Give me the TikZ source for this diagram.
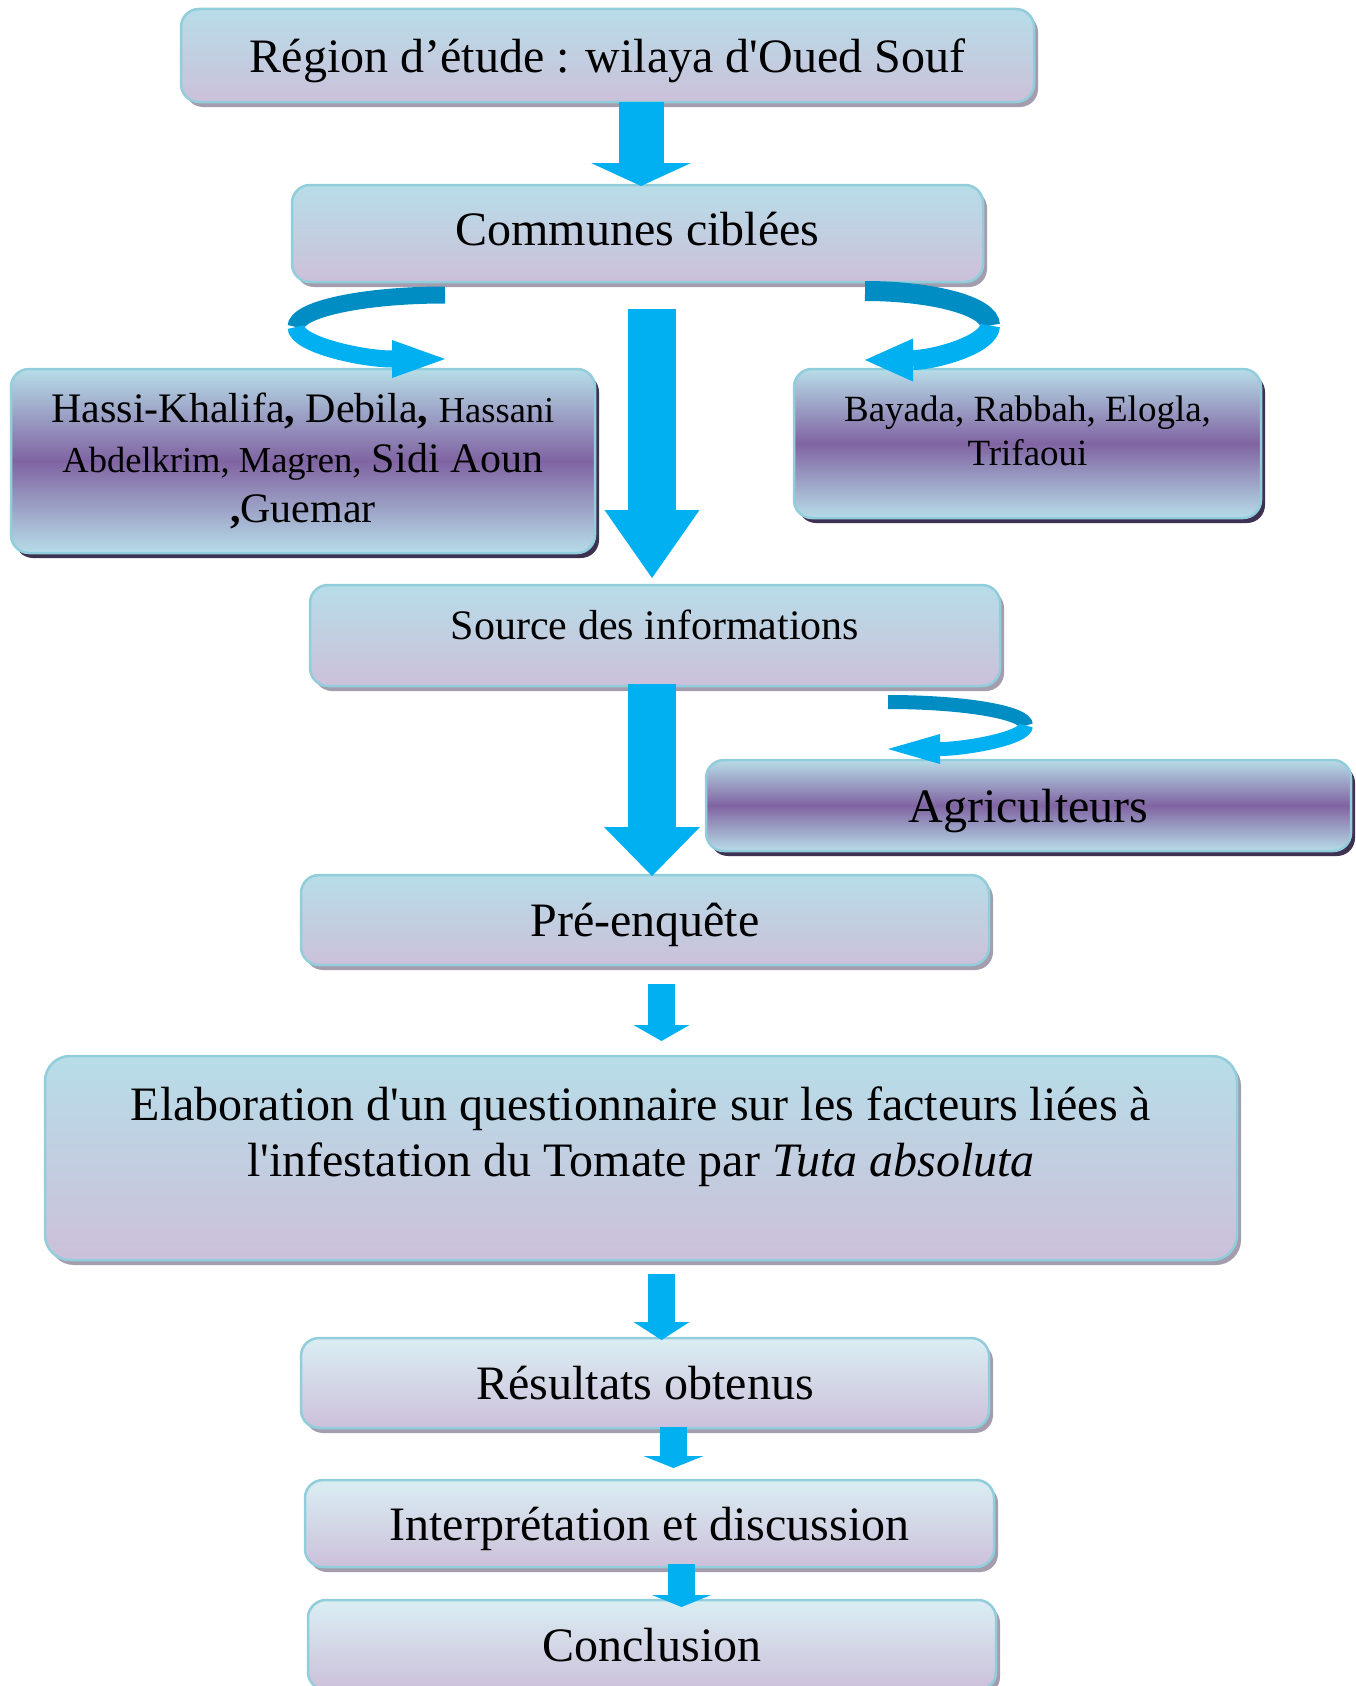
\documentclass[tikz,border=0pt]{standalone}
\usepackage{fontspec}
\setmainfont{Liberation Serif}[Ligatures=TeXOff]
\usepackage{tikz}
\usetikzlibrary{positioning,shapes,arrows.meta,shadows,calc}

\definecolor{aquatop}{HTML}{B7DDE8}
\definecolor{aquapale}{HTML}{DAEEF3}
\definecolor{lilac}{HTML}{CCC0DA}
\definecolor{plum}{HTML}{8064A2}
\definecolor{rimblue}{HTML}{92CDDC}
\definecolor{shadegray}{HTML}{A39DAE}
\definecolor{shadeplum}{HTML}{3F3151}
\definecolor{flowblue}{HTML}{00B0F0}
\definecolor{flowdark}{HTML}{008DC4}

\newcommand{\bigtxt}{\fontsize{48}{56}\selectfont}
\newcommand{\midtxt}{\fontsize{42}{50}\selectfont}
\newcommand{\smalltown}{\fontsize{36.5}{50}\selectfont}
\newcommand{\eastfont}{\fontsize{37}{44}\selectfont}

\begin{document}
\begin{tikzpicture}[x=1pt, y=-1pt,
    boxbase/.style={draw=rimblue, line width=2.5pt, rounded corners=18pt,
      outer sep=0pt, inner sep=0pt, align=center, font=\bigtxt},
    stage/.style={boxbase, top color=aquatop, bottom color=lilac,
      drop shadow={fill=shadegray, opacity=1, shadow xshift=4pt, shadow yshift=-5pt}},
    stagepale/.style={boxbase, top color=aquapale, bottom color=lilac,
      drop shadow={fill=shadegray, opacity=1, shadow xshift=4pt, shadow yshift=-5pt}},
    towns/.style={boxbase, top color=aquatop, bottom color=aquatop, middle color=plum,
      drop shadow={fill=shadeplum, opacity=1, shadow xshift=4pt, shadow yshift=-5pt}},
    flow/.style n args={3}{draw=flowblue, line width=#1,
      -{Triangle[width=#2, length=#3, line width=0pt]}},
    curlback/.style={draw=flowdark, line width=#1}]

		\useasboundingbox (0,0) rectangle (1355,1686);

		% the study region and the communes
		\node[stage, minimum width=853pt, minimum height=93pt, text depth=0pt] (region) at (607.5,55.5) {Région d’étude : wilaya d'Oued Souf};
		\node[stage, minimum width=691pt, minimum height=97pt, text depth=10pt] (communes) at (637.5,233.5) {Communes ciblées};
		\draw[flow={45pt}{100pt}{23pt}] ($(region.south)+(33.5,0)$) -- ($(communes.north)+(3.5,1)$);

		% the two groups of communes
		\node[towns, minimum width=584pt, minimum height=184pt, font=\midtxt] (hassi) at (303,461)
			{Hassi-Khalifa\textbf{,} Debila\textbf{,} {\smalltown Hassani}\\
			{\smalltown Abdelkrim, Magren,} Sidi Aoun\\
			\textbf{,}Guemar};
		\node[towns, minimum width=467pt, minimum height=149pt, font=\eastfont] (bayada) at (1027.5,443.5)
			{Bayada, Rabbah, Elogla,\\ Trifaoui\\[-19pt]\mbox{}};

		\draw[curlback=17pt] ($(communes.south west)+(153,13)$) arc[start angle=-90, end angle=-180, x radius=149, y radius=32] coordinate (westturn);
		\draw[flow={17pt}{38pt}{53pt}] (westturn) arc[start angle=180, end angle=90, x radius=149, y radius=32];
		\draw[curlback=20pt] ($(communes.south east)+(-118,9)$) arc[start angle=-90, end angle=0, x radius=125, y radius=34.5] coordinate (eastturn);
		\draw[flow={20pt}{43pt}{48pt}] (eastturn) arc[start angle=0, end angle=90, x radius=125, y radius=34.5];

		% source of the data
		\node[stage, minimum width=690pt, minimum height=101pt, font=\midtxt, text depth=22pt] (source) at (655,635.5) {Source des informations};
		\draw[flow={48pt}{95pt}{68pt}] ($(communes.south)+(14.5,27)$) -- ($(source.north)+(-3,-7)$);

		\node[towns, minimum width=645pt, minimum height=91pt, text depth=0pt] (farmers) at (1028.5,805.5) {Agriculteurs};
		\draw[curlback=14pt] ($(source.south east)+(-112,16)$) arc[start angle=-90, end angle=0, x radius=138, y radius=23.5] coordinate (farmturn);
		\draw[flow={14pt}{30pt}{52pt}] (farmturn) arc[start angle=0, end angle=90, x radius=138, y radius=23.5];

		% survey steps
		\node[stage, minimum width=688pt, minimum height=90pt, text depth=0pt] (pre) at (645,920) {Pré-enquête};
		\draw[flow={48pt}{96pt}{49pt}] ($(source.south)+(-3,-2)$) -- ($(pre.north)+(7,1)$);

		\node[stage, rounded corners=25pt, minimum width=1192pt, minimum height=204pt] (elab) at (641,1158)
			{Elaboration d'un questionnaire sur les facteurs liées à\\
			l'infestation du Tomate par \textit{Tuta absoluta}\\[-4pt]\mbox{}};
		\draw[flow={27pt}{56pt}{16pt}] ($(pre.south)+(16.5,19)$) -- ($(elab.north)+(20.5,-15)$);

		% results and end
		\node[stagepale, minimum width=688pt, minimum height=90pt] (results) at (645,1383) {Résultats obtenus};
		\draw[flow={27pt}{56pt}{18pt}] ($(elab.south)+(20.5,14)$) -- ($(results.north)+(16.5,2)$);

		\node[stagepale, minimum width=689pt, minimum height=87pt, text depth=0pt] (interp) at (649.5,1523.5) {Interprétation et discussion};
		\draw[flow={27pt}{60pt}{12pt}] ($(results.south)+(28.5,-1)$) -- ($(interp.north)+(24,-12)$);

		\node[stagepale, minimum width=688pt, minimum height=90pt] (concl) at (652,1645) {Conclusion};
		\draw[flow={27pt}{59pt}{12pt}] ($(interp.south)+(32,-3)$) -- ($(concl.north)+(29.5,7)$);

	\end{tikzpicture}
\end{document}
